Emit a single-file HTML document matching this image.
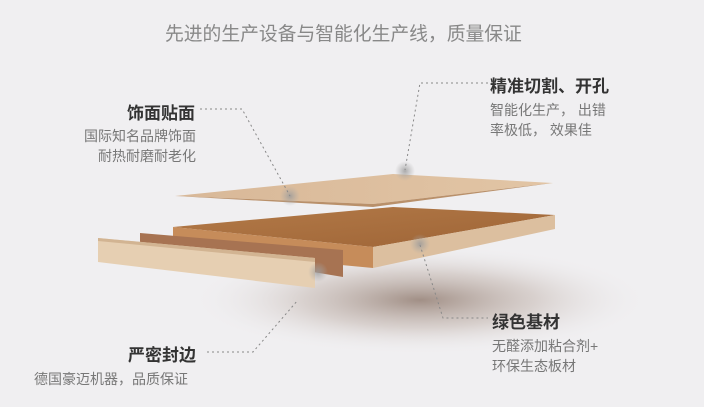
<!DOCTYPE html>
<html><head><meta charset="utf-8"><style>
body{margin:0;width:704px;height:407px;overflow:hidden;background:#f0eff1;font-family:"Liberation Sans","Noto Sans CJK SC",sans-serif;position:relative}
.t{position:absolute;white-space:nowrap}
.h{font-size:17px;font-weight:bold;color:#333}
.s{font-size:14px;color:#777;line-height:20px}
</style></head><body>
<svg width="704" height="407" style="position:absolute;left:0;top:0">
<defs>
<radialGradient id="sh" cx="0.5" cy="0.5" r="0.5"><stop offset="0" stop-color="#9d8a80" stop-opacity="0.95"/><stop offset="0.5" stop-color="#c8bcb6" stop-opacity="0.6"/><stop offset="1" stop-color="#f0eff1" stop-opacity="0"/></radialGradient>
<linearGradient id="ven" x1="0" y1="0" x2="1" y2="0"><stop offset="0" stop-color="#d8b898"/><stop offset="1" stop-color="#e2c5a5"/></linearGradient>
<linearGradient id="top" x1="0" y1="0" x2="1" y2="1"><stop offset="0" stop-color="#b37a48"/><stop offset="1" stop-color="#9e6436"/></linearGradient>
<radialGradient id="dot"><stop offset="0" stop-color="#999" stop-opacity="0.8"/><stop offset="1" stop-color="#aaa" stop-opacity="0"/></radialGradient>
</defs>
<ellipse cx="420" cy="300" rx="230" ry="55" fill="url(#sh)"/>
<polygon points="175,196 393,174 553,183 373,204" fill="url(#ven)"/>
<polygon points="175,196 373,204 553,183 373,207" fill="#b9906a"/>
<polygon points="173,227 393,207 555,215 373,247" fill="url(#top)"/>
<polygon points="373,247 555,215 555,229 373,268" fill="#dcbf9f"/>
<polygon points="173,227 373,247 373,268 173,249" fill="#c68c5a"/>
<polygon points="140,233 343,250 343,277 140,243" fill="#a77352"/>
<polygon points="98,238 315,258 315,288 98,262" fill="#e6cfb2"/>
<polygon points="98,238 315,258 315,262 98,241" fill="#d2b492"/>
<circle cx="290" cy="196" r="10" fill="url(#dot)"/>
<circle cx="405" cy="171" r="10" fill="url(#dot)"/>
<circle cx="420" cy="244" r="10" fill="url(#dot)"/>
<circle cx="318" cy="272" r="10" fill="url(#dot)"/>
<g stroke="#888" stroke-width="1" stroke-dasharray="2,3" fill="none">
<polyline points="200,109 242,109 290,196"/>
<polyline points="488,83 420,83 405,170"/>
<polyline points="420,245 443,318 488,318"/>
<polyline points="207,352 253,352 298,300"/>
</g>
</svg>
<div class="t" style="left:165px;top:19px;font-size:18.8px;color:#888">先进的生产设备与智能化生产线，质量保证</div>
<div class="t h" style="left:127px;top:99px">饰面贴面</div>
<div class="t s" style="left:80px;top:126px;text-align:right;width:116px">国际知名品牌饰面<br>耐热耐磨耐老化</div>
<div class="t h" style="left:490px;top:72px">精准切割、开孔</div>
<div class="t s" style="left:490px;top:100px">智能化生产， 出错<br>率极低， 效果佳</div>
<div class="t h" style="left:492px;top:308px">绿色基材</div>
<div class="t s" style="left:492px;top:336px">无醛添加粘合剂+<br>环保生态板材</div>
<div class="t h" style="left:128px;top:341px">严密封边</div>
<div class="t s" style="left:34px;top:369px">德国豪迈机器，品质保证</div>
</body></html>
